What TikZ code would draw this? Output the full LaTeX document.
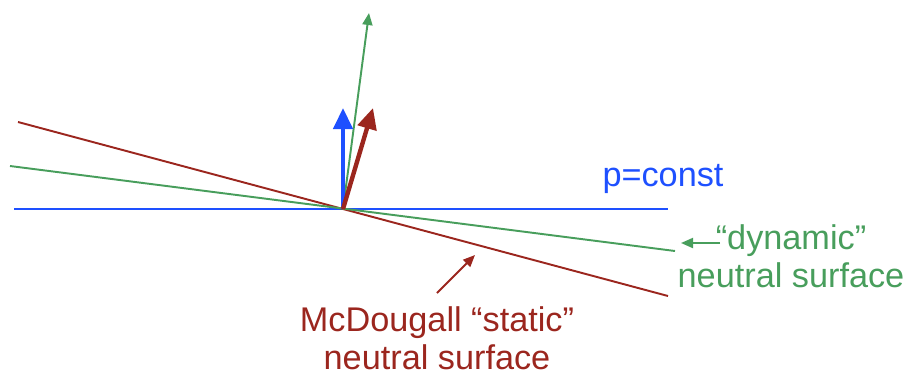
\documentclass[tikz,border=0pt]{standalone}
\usepackage{fontspec}
\setmainfont{Liberation Sans}
\usetikzlibrary{arrows.meta}
\definecolor{ncblue}{RGB}{30,80,255}
\definecolor{ncred}{RGB}{155,38,30}
\definecolor{ncgreen}{RGB}{72,158,92}

\begin{document}
\begin{tikzpicture}[x=0.02cm, y=-0.02cm,
    surf/.style={line width=1.1pt},
    normal/.style={line width=2.5pt, -{Triangle[length=0.42cm, width=0.38cm]}},
    thinarr/.style={line width=1.1pt, -{Triangle[length=0.24cm, width=0.2cm]}},
    lbl/.style={font=\fontsize{19.5}{21.5}\selectfont, align=center, inner sep=0pt}]
    \useasboundingbox (0,0) rectangle (903,376);
    \coordinate (O) at (343,209);
    % the three surfaces through O
    \coordinate (pW) at (14,209);   \coordinate (pE) at (668,209);
    \coordinate (sW) at (18,122);   \coordinate (sE) at (668,296);
    \coordinate (dW) at (10,166);   \coordinate (dE) at (675,251);
    \draw[ncblue, surf] (pW) -- (pE);
    \draw[ncred, surf] (sW) -- (sE);
    \draw[ncgreen, surf] (dW) -- (dE);
    % normals
    \coordinate (nP) at (343,108);
    \coordinate (nS) at (373,108);
    \coordinate (nD) at (369,13);
    \draw[ncgreen, thinarr] (O) -- (nD);
    \draw[ncblue, normal] (O) -- (nP);
    \draw[ncred, normal] (O) -- (nS);
    % labels (base = last line)
    \node[lbl, ncblue, anchor=base] (pconst) at (663,186) {p=const};
    \node[lbl, ncgreen, anchor=base] (dyn) at (791,287) {“dynamic”\\neutral surface};
    \node[lbl, ncred, anchor=base] (stat) at (437,369) {McDougall “static”\\neutral surface};
    \coordinate (dynTail) at (720,243);
    \coordinate (dynTip) at (681,243);
    \coordinate (statTail) at (437,293);
    \coordinate (statTip) at (475,255);
    \draw[ncgreen, thinarr] (dynTail) -- (dynTip);
    \draw[ncred, thinarr] (statTail) -- (statTip);
\end{tikzpicture}
\end{document}
